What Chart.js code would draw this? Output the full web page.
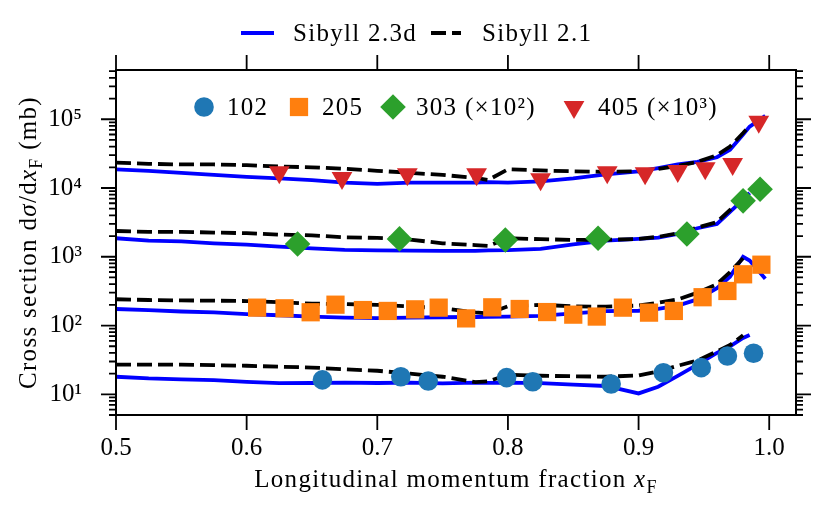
<!DOCTYPE html>
<html>
<head>
<meta charset="utf-8">
<script src="https://cdn.jsdelivr.net/npm/chart.js@4.4.1/dist/chart.umd.min.js"></script>
<style>
    html, body { margin: 0; padding: 0; background: #fff; }
</style>
</head>
<body>
<canvas id="chart" width="830" height="515"></canvas>
<script>
const FONT = '"Liberation Serif", "DejaVu Serif", serif';

// xF grid of the model curves
const xModel = [0.500, 0.525, 0.550, 0.575, 0.600, 0.625, 0.650, 0.675, 0.700, 0.725, 0.750, 0.775, 0.785,
                0.800, 0.825, 0.850, 0.875, 0.900, 0.915, 0.930, 0.945, 0.960, 0.970, 0.980, 0.985, 0.997];

// Sibyll 2.3d (solid)
const sib23_102 = [18.0, 17.0, 16.5, 16.1, 15.2, 14.5, 14.6, 14.8, 14.6, 14.8, 14.4, 14.8, 14.7,
                   14.8, 14.5, 13.8, 13.2, 10.3, 12.9, 18.5, 27, 40, 50, 66, 73, null];
const sib23_205 = [174, 168, 160, 155, 147, 141, 135, 130, 128, 130, 132, 133, 134,
                   135, 138, 150, 162, 164, 175, 195, 240, 350, 514, 1000, 880, 480];
const sib23_303 = [1860, 1720, 1680, 1570, 1500, 1400, 1320, 1260, 1240, 1230, 1220, 1220, 1240,
                   1250, 1300, 1520, 1720, 1820, 1900, 2150, 2600, 3000, 4500, 6800, 8500, null];
const sib23_405 = [18700, 17800, 16600, 15500, 14500, 13800, 13000, 12000, 11500, 12000, 12000, 12000, 12200,
                   12000, 12500, 13800, 15800, 17500, 19500, 22000, 24000, 28000, 36000, 60000, 78000, 112000];

// Sibyll 2.1 (dashed)
const sib21_102 = [27, 27, 27, 26.5, 26, 25.2, 24.5, 23.1, 22, 20, 18, 15.0, 15.5,
                   19.3, 18.6, 18.3, 18, 18.8, 21.5, 26, 31, 42, 52, 72, null, null];
const sib21_205 = [241, 235, 232, 230, 227, 218, 208, 205, 200, 190, 178, 155, 150,
                   190, 200, 190, 188, 195, 215, 240, 300, 400, 600, 950, null, null];
const sib21_303 = [2370, 2300, 2300, 2250, 2200, 2100, 2050, 1920, 1880, 1780, 1570, 1480, 1440,
                   1860, 1800, 1760, 1760, 1820, 1950, 2200, 2650, 3200, 4800, 7000, null, null];
const sib21_405 = [23400, 22500, 22000, 22000, 21500, 20500, 20000, 19000, 17800, 16600, 15500, 14000, 13100,
                   18700, 18000, 17500, 17200, 17500, 19000, 21000, 24000, 30000, 40000, 63000, 80000, null];

// measured points
const xf102 = [0.658, 0.718, 0.739, 0.799, 0.819, 0.879, 0.919, 0.948, 0.968, 0.988];
const cs102 = [16.2, 18.0, 15.6, 17.5, 15.2, 14.1, 20.6, 24.4, 36, 39.5];
const xf205 = [0.608, 0.629, 0.649, 0.668, 0.689, 0.708, 0.729, 0.747, 0.768, 0.788, 0.809,
               0.830, 0.850, 0.868, 0.888, 0.908, 0.927, 0.949, 0.968, 0.980, 0.994];
const cs205 = [182, 178, 156, 201, 168, 163, 172, 182, 127, 184, 174,
               157, 144, 135, 182, 154, 163, 258, 318, 556, 767];
const xf303 = [0.639, 0.717, 0.798, 0.869, 0.937, 0.980, 0.993];
const cs303 = [1530, 1820, 1750, 1860, 2140, 6500, 9600];
const xf405 = [0.625, 0.673, 0.723, 0.776, 0.825, 0.876, 0.905, 0.930, 0.951, 0.972, 0.992];
const cs405 = [16900, 14000, 15800, 15800, 13400, 17000, 16400, 17700, 19400, 22400, 92000];

const pointLabels = ['102', '205', '303 (×10²)', '405 (×10³)'];
const modelLabels = ['Sibyll 2.3d', 'Sibyll 2.1'];

const xTicks = [0.5, 0.6, 0.7, 0.8, 0.9, 1.0];
const yMajor = [10, 100, 1000, 10000, 100000];
const yMajorLabels = ['10¹', '10²', '10³', '10⁴', '10⁵'];
const yRange = [5, 5.2e5];
const xRange = [0.5, 1.0205];

const colors = ['#1f77b4', '#ff7f0e', '#2ca02c', '#d62728'];
const styles = [
    { pointStyle: 'circle', radius: 9.8, rotation: 0 },
    { pointStyle: 'rect', radius: 12.9, rotation: 0 },
    { pointStyle: 'rectRot', radius: 12.8, rotation: 0 },
    { pointStyle: 'triangle', radius: 12, rotation: 180 }
];
const LINE_W = 3.8;
const DASH = [15, 6];

// minor ticks for the log axis
const yTicks = [];
for (let e = 0; e <= 5; e++) {
    for (let m = 1; m <= 9; m++) {
        const v = m * Math.pow(10, e);
        if (v >= yRange[0] && v <= yRange[1]) yTicks.push(v);
    }
}

function curve(arr) {
    return xModel.map((x, i) => ({ x: x, y: arr[i] })).filter(p => p.y !== null);
}
function points(xs, ys) {
    return xs.map((x, i) => ({ x: x, y: ys[i] }));
}

const datasets = [];
[[xf102, cs102], [xf205, cs205], [xf303, cs303], [xf405, cs405]].forEach((d, i) => {
    datasets.push({
        label: pointLabels[i],
        data: points(d[0], d[1]),
        backgroundColor: colors[i],
        borderWidth: 0,
        pointStyle: styles[i].pointStyle,
        pointRadius: styles[i].radius,
        pointRotation: styles[i].rotation,
        pointBorderWidth: 0,
        order: 0
    });
});
[sib21_102, sib21_205, sib21_303, sib21_405].forEach(arr => {
    datasets.push({
        label: modelLabels[1],
        data: curve(arr),
        showLine: true,
        borderColor: '#000',
        borderWidth: LINE_W,
        borderDash: DASH,
        pointRadius: 0,
        order: 1
    });
});
[sib23_102, sib23_205, sib23_303, sib23_405].forEach(arr => {
    datasets.push({
        label: modelLabels[0],
        data: curve(arr),
        showLine: true,
        borderColor: '#0000ff',
        borderWidth: LINE_W,
        pointRadius: 0,
        order: 2
    });
});

function partFont(p, size) {
    const s = p.sub ? Math.round(size * 0.7) : size;
    return (p.it ? 'italic ' : '') + s + 'px ' + FONT;
}
function drawRich(ctx, parts, cx, baseline, size) {
    let w = 0;
    parts.forEach(p => { ctx.font = partFont(p, size); w += ctx.measureText(p.t).width; });
    let x = cx - w / 2;
    ctx.textAlign = 'left';
    ctx.textBaseline = 'alphabetic';
    parts.forEach(p => {
        ctx.font = partFont(p, size);
        ctx.fillText(p.t, x, baseline + (p.sub ? size * 0.22 : 0));
        x += ctx.measureText(p.t).width;
    });
}

const decorations = {
    id: 'decorations',
    afterDraw(chart) {
        const { ctx, chartArea: a, scales: { x, y } } = chart;
        ctx.save();
        ctx.strokeStyle = '#000';
        ctx.fillStyle = '#000';

        // frame
        ctx.lineWidth = 2;
        ctx.strokeRect(a.left, a.top, a.right - a.left, a.bottom - a.top);

        // tick marks on all four sides
        ctx.lineWidth = 1.8;
        ctx.beginPath();
        x.ticks.forEach(t => {
            const px = x.getPixelForValue(t.value);
            ctx.moveTo(px, a.bottom); ctx.lineTo(px, a.bottom + 15);
            ctx.moveTo(px, a.top); ctx.lineTo(px, a.top - 15);
        });
        y.ticks.forEach(t => {
            const py = y.getPixelForValue(t.value);
            const len = yMajor.includes(t.value) ? 15 : 7;
            ctx.moveTo(a.left, py); ctx.lineTo(a.left - len, py);
            ctx.moveTo(a.right, py); ctx.lineTo(a.right + len, py);
        });
        ctx.stroke();

        ctx.letterSpacing = '1.3px';

        // axis titles
        drawRich(ctx, [
            { t: 'Longitudinal momentum fraction ' },
            { t: 'x', it: true },
            { t: 'F', sub: true }
        ], (a.left + a.right) / 2, 487, 25);

        ctx.save();
        ctx.translate(36, (a.top + a.bottom) / 2);
        ctx.rotate(-Math.PI / 2);
        drawRich(ctx, [
            { t: 'Cross section d' },
            { t: 'σ', it: true },
            { t: '/d' },
            { t: 'x', it: true },
            { t: 'F', sub: true },
            { t: ' (mb)' }
        ], 0, 0, 25);
        ctx.restore();

        // model legend above the frame
        ctx.font = '25px ' + FONT;
        ctx.textAlign = 'left';
        ctx.textBaseline = 'middle';
        ctx.lineWidth = LINE_W;
        ctx.strokeStyle = '#0000ff';
        ctx.beginPath(); ctx.moveTo(241, 33); ctx.lineTo(274, 33); ctx.stroke();
        ctx.fillText(modelLabels[0], 293, 34);
        ctx.strokeStyle = '#000';
        ctx.setLineDash(DASH);
        ctx.beginPath(); ctx.moveTo(431, 33); ctx.lineTo(461, 33); ctx.stroke();
        ctx.setLineDash([]);
        ctx.fillText(modelLabels[1], 482, 34);

        // data legend inside the frame
        const markX = [204, 299, 393, 574];
        const textX = [227, 322, 416, 598];
        pointLabels.forEach((lab, i) => {
            ctx.fillStyle = colors[i];
            Chart.helpers.drawPoint(ctx, {
                pointStyle: styles[i].pointStyle,
                radius: styles[i].radius,
                rotation: styles[i].rotation,
                borderWidth: 0
            }, markX[i], 107);
            ctx.fillStyle = '#000';
            ctx.fillText(lab, textX[i], 108);
        });
        ctx.restore();
    }
};

new Chart(document.getElementById('chart'), {
    type: 'scatter',
    data: { datasets: datasets },
    options: {
        responsive: false,
        animation: false,
        layout: { padding: { top: 70, right: 34, left: 0, bottom: 0 } },
        plugins: {
            legend: { display: false },
            tooltip: { enabled: false }
        },
        scales: {
            x: {
                type: 'linear',
                min: xRange[0],
                max: xRange[1],
                afterBuildTicks: s => { s.ticks = xTicks.map(v => ({ value: v })); },
                afterFit: s => { s.height = 100; },
                grid: { display: false },
                border: { display: false },
                ticks: {
                    autoSkip: false,
                    maxRotation: 0,
                    padding: 10,
                    color: '#000',
                    font: { family: FONT, size: 25 },
                    callback: v => v.toFixed(1)
                }
            },
            y: {
                type: 'logarithmic',
                min: yRange[0],
                max: yRange[1],
                afterBuildTicks: s => { s.ticks = yTicks.map(v => ({ value: v })); },
                afterFit: s => { s.width = 116; },
                grid: { display: false },
                border: { display: false },
                ticks: {
                    autoSkip: false,
                    padding: 26,
                    color: '#000',
                    font: { family: FONT, size: 25 },
                    callback: v => {
                        const k = yMajor.indexOf(v);
                        return k >= 0 ? yMajorLabels[k] : '';
                    }
                }
            }
        }
    },
    plugins: [decorations]
});
</script>
</body>
</html>
